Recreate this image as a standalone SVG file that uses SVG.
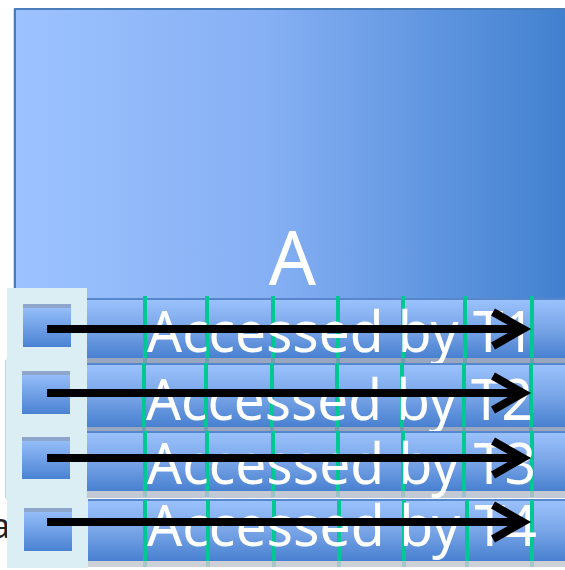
<svg xmlns="http://www.w3.org/2000/svg" width="565" height="570" viewBox="0 0 565 570">
  <defs>
    <linearGradient id="gA" x1="0" y1="0" x2="1" y2="0">
      <stop offset="0" stop-color="#9dc3ff"/>
      <stop offset="0.45" stop-color="#86b0f4"/>
      <stop offset="1" stop-color="#3f7fce"/>
    </linearGradient>
    <linearGradient id="gRow" x1="0" y1="0" x2="0" y2="1">
      <stop offset="0" stop-color="#9cc3fd"/>
      <stop offset="0.5" stop-color="#7aa6e8"/>
      <stop offset="1" stop-color="#4880d0"/>
    </linearGradient>
    <linearGradient id="gIcon" x1="0" y1="0" x2="0" y2="1">
      <stop offset="0" stop-color="#9cc3fd"/>
      <stop offset="1" stop-color="#4a82d2"/>
    </linearGradient>
    <style>
      .strip { fill: url(#gRow); }
      .stripTop { fill: #5786cc; }
      .shade { fill: #8797b4; opacity: 0.85; }
      .tick { fill: #00c893; }
      .label { font-family: "Noto Sans", "Open Sans", sans-serif; font-size: 57px; fill: #ffffff; }
      .panel { fill: #dbeef3; }
      .panelEdge { fill: #cfd3d8; }
      .icon { fill: url(#gIcon); }
      .iconTop { fill: #8ea6cc; }
      .arrow { fill: none; stroke: #000000; stroke-width: 8; stroke-linejoin: miter; }
    </style>
  </defs>

  <rect width="565" height="570" fill="#ffffff"/>

  <!-- stray text partly hidden behind the panels -->
  <text x="-9" y="538" font-family="Noto Sans, sans-serif" font-size="34" fill="#222222">a</text>

  <!-- large array block A -->
  <g id="block-a">
    <rect x="13" y="9" width="560" height="300" fill="#d8d8d8"/>
    <rect x="15" y="9" width="560" height="300" fill="url(#gA)" stroke="#4a7ebb" stroke-width="2"/>
    <text x="292.5" y="285" text-anchor="middle" font-family="Noto Sans, Open Sans, sans-serif" font-size="74" fill="#ffffff">A</text>
  </g>

  <!-- row 1 -->
  <g id="row-t1">
    <rect class="strip" x="60" y="298" width="510" height="60"/>
    <rect class="stripTop" x="60" y="298" width="510" height="2"/>
    <g>
      <rect class="tick" x="143" y="296" width="4" height="67"/>
      <rect class="tick" x="205" y="296" width="4" height="67"/>
      <rect class="tick" x="271" y="296" width="4" height="67"/>
      <rect class="tick" x="336" y="296" width="4" height="67"/>
      <rect class="tick" x="401" y="296" width="4" height="67"/>
      <rect class="tick" x="463" y="296" width="4" height="67"/>
      <rect class="tick" x="530" y="296" width="4" height="67"/>
    </g>
    <rect class="shade" x="60" y="358" width="510" height="5"/>
    <text class="label" x="147" y="352" textLength="388" lengthAdjust="spacingAndGlyphs">Accessed by T1</text>
    <rect class="panel" x="7" y="288" width="80" height="76"/>
    <rect class="icon" x="23" y="304" width="48" height="43"/>
    <rect class="iconTop" x="23" y="304" width="48" height="4"/>
  </g>

  <!-- row 2 -->
  <g id="row-t2">
    <rect class="strip" x="60" y="363" width="510" height="64"/>
    <rect class="stripTop" x="60" y="363" width="510" height="2"/>
    <g>
      <rect class="tick" x="142" y="363" width="4" height="68"/>
      <rect class="tick" x="204" y="363" width="4" height="68"/>
      <rect class="tick" x="270" y="363" width="4" height="68"/>
      <rect class="tick" x="335" y="363" width="4" height="68"/>
      <rect class="tick" x="400" y="363" width="4" height="68"/>
      <rect class="tick" x="462" y="363" width="4" height="68"/>
      <rect class="tick" x="529" y="363" width="4" height="68"/>
    </g>
    <rect class="shade" x="60" y="427" width="510" height="4"/>
    <text class="label" x="146" y="420" textLength="387" lengthAdjust="spacingAndGlyphs">Accessed by T2</text>
    <rect class="panelEdge" x="5" y="360" width="2" height="70"/>
    <rect class="panel" x="6" y="358" width="81" height="72"/>
    <rect class="icon" x="22" y="371" width="48" height="43"/>
    <rect class="iconTop" x="22" y="371" width="48" height="4"/>
  </g>

  <!-- row 3 -->
  <g id="row-t3">
    <rect class="strip" x="60" y="431" width="510" height="60"/>
    <rect class="stripTop" x="60" y="431" width="510" height="2"/>
    <g>
      <rect class="tick" x="143" y="431" width="4" height="66"/>
      <rect class="tick" x="205" y="431" width="4" height="66"/>
      <rect class="tick" x="271" y="431" width="4" height="66"/>
      <rect class="tick" x="336" y="431" width="4" height="66"/>
      <rect class="tick" x="401" y="431" width="4" height="66"/>
      <rect class="tick" x="462" y="431" width="4" height="66"/>
      <rect class="tick" x="530" y="431" width="4" height="66"/>
    </g>
    <rect class="shade" x="60" y="491" width="510" height="7" style="fill:#b9c0cc"/>
    <text class="label" x="147" y="484" textLength="389" lengthAdjust="spacingAndGlyphs">Accessed by T3</text>
    <rect class="panelEdge" x="5" y="430" width="2" height="68"/>
    <rect class="panel" x="6" y="428" width="81" height="72"/>
    <rect class="icon" x="22" y="437" width="48" height="42"/>
    <rect class="iconTop" x="22" y="437" width="48" height="4"/>
  </g>

  <!-- row 4 -->
  <g id="row-t4">
    <rect class="strip" x="60" y="499" width="510" height="62"/>
    <rect class="stripTop" x="60" y="499" width="510" height="2"/>
    <g>
      <rect class="tick" x="143" y="500" width="4" height="67"/>
      <rect class="tick" x="206" y="500" width="4" height="67"/>
      <rect class="tick" x="272" y="500" width="4" height="67"/>
      <rect class="tick" x="337" y="500" width="4" height="67"/>
      <rect class="tick" x="402" y="500" width="4" height="67"/>
      <rect class="tick" x="465" y="500" width="4" height="67"/>
      <rect class="tick" x="530" y="500" width="4" height="67"/>
    </g>
    <rect class="shade" x="60" y="561" width="510" height="6" style="fill:#c4c8cf"/>
    <text class="label" x="147" y="546" textLength="390" lengthAdjust="spacingAndGlyphs">Accessed by T4</text>
    <rect class="panel" x="7" y="498" width="81" height="70"/>
    <rect class="icon" x="24" y="508" width="48" height="43"/>
    <rect class="iconTop" x="24" y="508" width="48" height="4"/>
  </g>

  <!-- thread access arrows -->
  <g id="connectors">
    <path class="arrow" d="M47,329 H522 M493,312 L523,329 L493,346"/>
    <path class="arrow" d="M47,393 H522 M493,376 L523,393 L493,410"/>
    <path class="arrow" d="M47,458 H522 M493,441 L523,458 L493,475"/>
    <path class="arrow" d="M47,522 H522 M493,505 L523,522 L493,539"/>
  </g>
</svg>
